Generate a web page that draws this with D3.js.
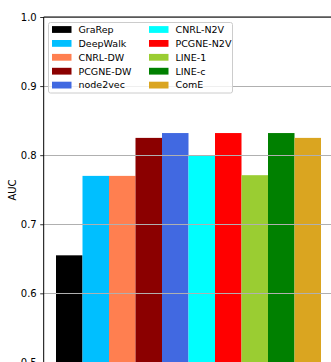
<!DOCTYPE html>
<html><head><meta charset="utf-8">
<script src="https://cdn.jsdelivr.net/npm/d3@7"></script>
<style>body{margin:0;background:#fff;overflow:hidden}svg{display:block;font-family:"DejaVu Sans",sans-serif}</style>
</head><body>
<svg id="c" width="331" height="362"></svg>
<script>
const methods = ["GraRep","DeepWalk","CNRL-DW","PCGNE-DW","node2vec","CNRL-N2V","PCGNE-N2V","LINE-1","LINE-c","ComE"];
const auc = [0.655,0.770,0.770,0.825,0.832,0.800,0.832,0.771,0.832,0.825];
const colors = ["#000000","#00BFFF","#FF7F50","#8B0000","#4169E1","#00FFFF","#FF0000","#9ACD32","#008000","#DAA520"];
const yTicks = [0.5,0.6,0.7,0.8,0.9,1.0];

(function(){
const svg = d3.select("#c");
const pL = 43.7, pR = 345, pT = 17, pB = 362.4;
const y = d3.scaleLinear().domain([0.5,1.0]).range([pB, pT]);
const x = d3.scaleBand().domain(methods).range([56, 321]).padding(0);

// bars
svg.append("g").selectAll("rect").data(methods).join("rect")
  .attr("x", d => x(d)).attr("width", x.bandwidth())
  .attr("y", (d,i) => y(auc[i])).attr("height", (d,i) => pB - y(auc[i]))
  .attr("fill", (d,i) => colors[i]);

// grid (above bars)
svg.append("g").selectAll("line").data(yTicks).join("line")
  .attr("x1", pL).attr("x2", pR)
  .attr("y1", d => Math.round(y(d))+0.5).attr("y2", d => Math.round(y(d))+0.5)
  .attr("stroke", "#b0b0b0").attr("stroke-width", 1);

// axis
const ax = svg.append("g").attr("transform", `translate(${pL},0)`)
  .call(d3.axisLeft(y).tickValues(yTicks).tickFormat(d3.format(".1f")).tickSizeOuter(0).tickSize(3.5).tickPadding(3.5));
ax.select(".domain").remove();
ax.selectAll("text").attr("font-size", 10).attr("fill", "#000").attr("font-family", "DejaVu Sans");
ax.selectAll("line").attr("stroke", "#000").attr("stroke-width", 0.8);

// spines
svg.append("line").attr("x1", pL).attr("x2", pL).attr("y1", pT).attr("y2", pB+5).attr("stroke", "#000").attr("stroke-width", 1);
svg.append("line").attr("x1", pL).attr("x2", pR).attr("y1", pT).attr("y2", pT).attr("stroke", "#000").attr("stroke-width", 1);

// y label
svg.append("text").attr("transform", `translate(16,190) rotate(-90)`)
  .attr("text-anchor", "middle").attr("font-size", 10).text("AUC");

// legend
const lg = svg.append("g");
lg.append("rect").attr("x", 48.5).attr("y", 22.5).attr("width", 184).attr("height", 70.5)
  .attr("rx", 2).attr("fill", "#fff").attr("fill-opacity", 0.8).attr("stroke", "#ccc").attr("stroke-width", 1);
methods.forEach((m, i) => {
  const col = Math.floor(i / 5), row = i % 5;
  const sx = col === 0 ? 52 : 149, cy = 29.5 + row * 13.9;
  lg.append("rect").attr("x", sx).attr("y", cy - 3.4).attr("width", 19.5).attr("height", 6.8).attr("fill", colors[i]);
  lg.append("text").attr("x", sx + 26.5).attr("y", cy).attr("dy", "0.35em").attr("font-size", 9.5).text(m);
});
})();
</script>
</body></html>
